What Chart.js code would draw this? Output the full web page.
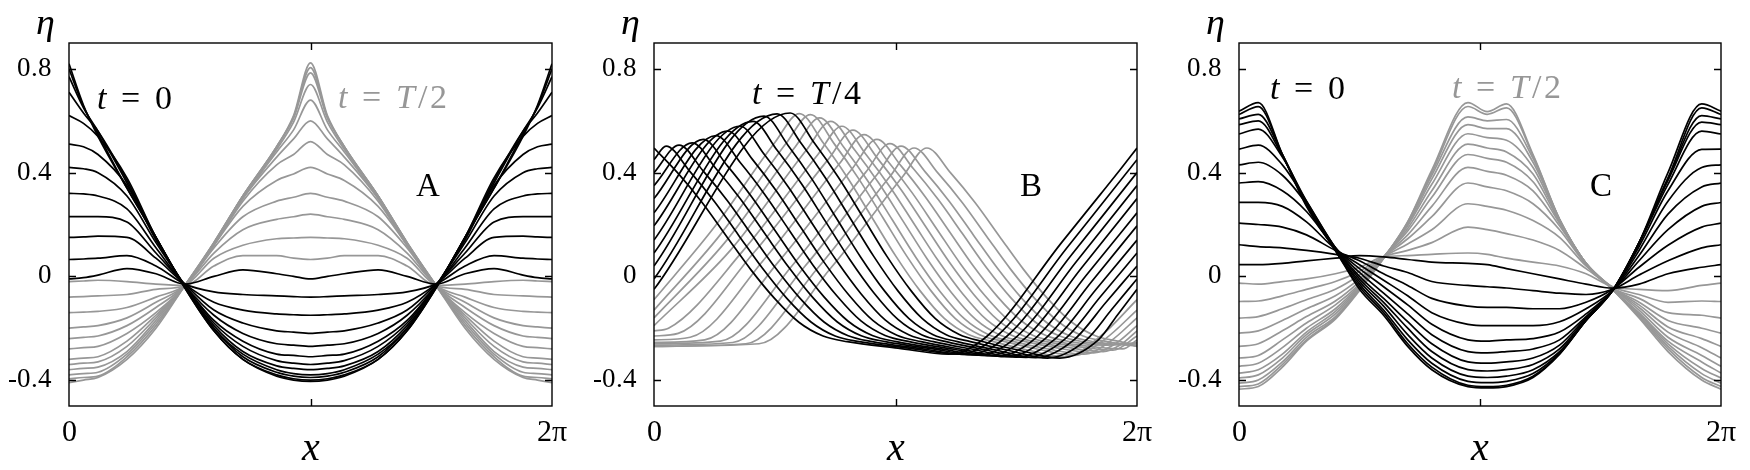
<!DOCTYPE html>
<html>
<head>
<meta charset="utf-8">
<title>Wave profiles A, B, C</title>
<script src="https://cdn.jsdelivr.net/npm/chart.js@4.4.1/dist/chart.umd.min.js"></script>
<style>
  @font-face { font-family: 'PlotSerif'; font-style: normal;
    src: local('Liberation Serif'), local('LiberationSerif'), local('LiberationSerif-Regular'), local('Liberation Serif Regular'); }
  @font-face { font-family: 'PlotSerif'; font-style: italic;
    src: local('Liberation Serif Italic'), local('LiberationSerif-Italic'); }
  body { margin: 0; background: #fff; font-family: 'PlotSerif', 'Liberation Serif', serif; }
  #wrap { position: relative; width: 1750px; height: 470px; }
  canvas { position: absolute; top: 0; }
  .preload { position: absolute; left: -999px; top: 0; }
</style>
</head>
<body>
<span class="preload">0.8 <i>t x</i></span>
<div id="wrap">
  <canvas id="panelA" width="583" height="470" style="left:0px"></canvas>
  <canvas id="panelB" width="583" height="470" style="left:583px"></canvas>
  <canvas id="panelC" width="584" height="470" style="left:1166px"></canvas>
</div>
<script>
// ---- axis ticks (x in units of pi) ----
const xTickValues = [0, 1, 2];
const xTickLabels = ['0', '', '2π'];
const yTickValues = [-0.4, 0, 0.4, 0.8];
const axisTitles = ['x', 'η'];

// ---- panel A : profiles read on a common x grid ----
const xsA = [0, .06, .12, .24, .36, .48, .6, .72, .86, .93, 1, 1.07, 1.14, 1.28, 1.4, 1.52, 1.64, 1.76, 1.88, 1.94, 2];
const blackA = [
  [.82,.66,.54,.34,.15,-.045,-.21,-.32,-.385,-.4,-.405,-.4,-.385,-.32,-.21,-.045,.15,.34,.54,.66,.82],
  [.8,.655,.55,.34,.15,-.045,-.21,-.32,-.38,-.395,-.4,-.395,-.38,-.32,-.21,-.045,.15,.34,.55,.655,.8],
  [.77,.65,.56,.36,.15,-.04,-.2,-.31,-.37,-.385,-.39,-.385,-.37,-.31,-.2,-.04,.15,.36,.56,.65,.77],
  [.71,.63,.56,.37,.15,-.04,-.2,-.3,-.36,-.375,-.38,-.375,-.36,-.3,-.2,-.04,.15,.37,.56,.63,.71],
  [.62,.59,.54,.38,.15,-.04,-.19,-.29,-.345,-.355,-.36,-.355,-.345,-.29,-.19,-.04,.15,.38,.54,.59,.62],
  [.51,.5,.47,.35,.14,-.035,-.18,-.27,-.325,-.335,-.34,-.335,-.325,-.27,-.18,-.035,.14,.35,.47,.5,.51],
  [.42,.415,.4,.31,.13,-.035,-.17,-.25,-.3,-.305,-.31,-.305,-.3,-.25,-.17,-.035,.13,.31,.4,.415,.42],
  [.32,.318,.31,.26,.11,-.035,-.15,-.22,-.26,-.265,-.27,-.265,-.26,-.22,-.15,-.035,.11,.26,.31,.318,.32],
  [.23,.23,.23,.21,.09,-.03,-.13,-.18,-.21,-.215,-.22,-.215,-.21,-.18,-.13,-.03,.09,.21,.23,.23,.23],
  [.15,.152,.155,.15,.07,-.03,-.1,-.13,-.145,-.148,-.15,-.148,-.145,-.13,-.1,-.03,.07,.15,.155,.152,.15],
  [.065,.067,.07,.08,.04,-.03,-.06,-.07,-.075,-.078,-.08,-.078,-.075,-.07,-.06,-.03,.04,.08,.07,.067,.065],
  [-.01,-.005,.005,.03,.01,-.03,0,.025,.01,0,-.01,0,.01,.025,0,-.03,.01,.03,.005,-.005,-.01]
];
const grayA = [
  [-.02,-.018,-.015,-.02,-.03,-.035,.04,.08,.08,.07,.065,.07,.08,.08,.04,-.035,-.03,-.02,-.015,-.018,-.02],
  [-.08,-.078,-.075,-.07,-.05,-.035,.07,.12,.145,.148,.15,.148,.145,.12,.07,-.035,-.05,-.07,-.075,-.078,-.08],
  [-.14,-.138,-.135,-.12,-.08,-.035,.09,.18,.22,.23,.24,.23,.22,.18,.09,-.035,-.08,-.12,-.135,-.138,-.14],
  [-.2,-.195,-.19,-.16,-.1,-.035,.11,.23,.29,.305,.32,.305,.29,.23,.11,-.035,-.1,-.16,-.19,-.195,-.2],
  [-.24,-.235,-.23,-.19,-.12,-.035,.12,.27,.37,.395,.42,.395,.37,.27,.12,-.035,-.12,-.19,-.23,-.235,-.24],
  [-.28,-.275,-.27,-.22,-.14,-.035,.12,.29,.43,.47,.52,.47,.43,.29,.12,-.035,-.14,-.22,-.27,-.275,-.28],
  [-.32,-.315,-.31,-.25,-.15,-.035,.12,.3,.46,.53,.6,.53,.46,.3,.12,-.035,-.15,-.25,-.31,-.315,-.32],
  [-.34,-.335,-.33,-.27,-.16,-.035,.125,.3,.48,.565,.68,.565,.48,.3,.125,-.035,-.16,-.27,-.33,-.335,-.34],
  [-.36,-.355,-.35,-.29,-.17,-.035,.125,.31,.49,.595,.74,.595,.49,.31,.125,-.035,-.17,-.29,-.35,-.355,-.36],
  [-.38,-.375,-.37,-.3,-.18,-.035,.13,.31,.5,.61,.785,.61,.5,.31,.13,-.035,-.18,-.3,-.37,-.375,-.38],
  [-.395,-.39,-.385,-.31,-.19,-.035,.13,.31,.5,.615,.805,.615,.5,.31,.13,-.035,-.19,-.31,-.385,-.39,-.395],
  [-.41,-.4,-.39,-.32,-.2,-.035,.13,.31,.5,.62,.823,.62,.5,.31,.13,-.035,-.2,-.32,-.39,-.4,-.41]
];

// ---- panel B : travelling crest, each profile as [x, eta] points ----
const blackB = [
  [[0,.495],[.1,.397],[.2,.284],[.3,.155],[.4,.027],[.5,-.086],[.6,-.177],[.7,-.23],[.8,-.252],[1.01,-.277],[1.22,-.3],[1.38,-.23],[1.69,.133],[1.85,.318],[1.93,.411],[2,.495]],
  [[0,.45],[.05,.502],[.15,.403],[.25,.289],[.35,.159],[.45,.03],[.55,-.085],[.65,-.176],[.75,-.23],[.85,-.252],[1.055,-.277],[1.26,-.3],[1.42,-.23],[1.71,.11],[2,.45]],
  [[0,.4],[.104,.506],[.204,.406],[.304,.292],[.404,.161],[.504,.031],[.604,-.084],[.704,-.176],[.804,-.229],[.904,-.252],[1.1,-.278],[1.3,-.302],[1.46,-.232],[1.73,.084],[2,.4]],
  [[0,.35],[.158,.515],[.258,.414],[.358,.298],[.458,.166],[.558,.035],[.658,-.082],[.758,-.175],[.858,-.229],[.958,-.252],[1.15,-.279],[1.34,-.304],[1.5,-.234],[1.75,.058],[2,.35]],
  [[0,.3],[.204,.528],[.304,.426],[.404,.307],[.504,.173],[.604,.039],[.704,-.079],[.804,-.173],[.904,-.228],[1.004,-.252],[1.19,-.28],[1.38,-.306],[1.54,-.236],[1.77,.032],[2,.3]],
  [[0,.245],[.257,.543],[.357,.439],[.457,.318],[.557,.182],[.657,.045],[.757,-.075],[.857,-.172],[.957,-.228],[1.057,-.252],[1.24,-.281],[1.42,-.308],[1.58,-.238],[1.79,.004],[2,.245]],
  [[0,.195],[.306,.56],[.406,.453],[.506,.33],[.606,.191],[.706,.052],[.806,-.071],[.906,-.17],[1.006,-.227],[1.106,-.252],[1.28,-.282],[1.46,-.31],[1.62,-.24],[1.81,-.023],[2,.195]],
  [[0,.14],[.357,.579],[.457,.47],[.557,.344],[.657,.201],[.757,.059],[.857,-.067],[.957,-.168],[1.057,-.226],[1.157,-.252],[1.33,-.283],[1.5,-.312],[1.66,-.242],[1.83,-.051],[2,.14]],
  [[0,.09],[.41,.598],[.51,.486],[.61,.358],[.71,.212],[.81,.066],[.91,-.063],[1.01,-.166],[1.11,-.226],[1.21,-.252],[1.375,-.284],[1.54,-.313],[1.7,-.243],[1.85,-.077],[2,.09]],
  [[0,.04],[.456,.618],[.556,.504],[.656,.372],[.756,.223],[.856,.074],[.956,-.058],[1.056,-.163],[1.156,-.225],[1.256,-.252],[1.42,-.285],[1.58,-.314],[1.74,-.244],[1.87,-.102],[2,.04]],
  [[0,-.01],[.51,.627],[.61,.512],[.71,.379],[.81,.228],[.91,.077],[1.01,-.056],[1.11,-.162],[1.21,-.225],[1.31,-.252],[1.47,-.286],[1.63,-.315],[1.79,-.245],[1.895,-.128],[2,-.01]],
  [[0,-.05],[.564,.63],[.664,.514],[.764,.381],[.864,.23],[.964,.078],[1.064,-.055],[1.164,-.162],[1.264,-.224],[1.364,-.252],[1.52,-.287],[1.68,-.315],[1.84,-.245],[1.92,-.148],[2,-.05]]
];
const grayB = [
  [[0,-.09],[.25,.19],[.502,.518],[.602,.628],[.702,.513],[.802,.379],[.902,.228],[1.002,.077],[1.102,-.056],[1.202,-.162],[1.302,-.224],[1.402,-.251],[1.55,-.285],[1.7,-.31],[1.85,-.23],[2,-.09]],
  [[0,-.13],[.274,.16],[.548,.514],[.648,.624],[.748,.509],[.848,.376],[.948,.226],[1.048,.076],[1.148,-.057],[1.248,-.163],[1.348,-.225],[1.448,-.251],[1.6,-.283],[1.74,-.305],[1.87,-.24],[2,-.13]],
  [[0,-.16],[.293,.13],[.586,.501],[.686,.611],[.786,.498],[.886,.367],[.986,.219],[1.086,.071],[1.186,-.06],[1.286,-.164],[1.386,-.225],[1.486,-.251],[1.63,-.28],[1.78,-.3],[1.89,-.25],[2,-.16]],
  [[0,-.19],[.316,.1],[.632,.488],[.732,.598],[.832,.486],[.932,.358],[1.032,.212],[1.132,.066],[1.232,-.063],[1.332,-.166],[1.432,-.226],[1.532,-.251],[1.68,-.278],[1.82,-.295],[1.91,-.26],[2,-.19]],
  [[0,-.21],[.06,-.2],[.37,.1],[.678,.469],[.778,.579],[.878,.47],[.978,.344],[1.078,.201],[1.178,.059],[1.278,-.067],[1.378,-.168],[1.478,-.226],[1.578,-.252],[1.72,-.275],[1.86,-.29],[1.93,-.265],[2,-.21]],
  [[0,-.23],[.1,-.22],[.412,.09],[.724,.454],[.824,.564],[.924,.457],[1.024,.333],[1.124,.193],[1.224,.053],[1.324,-.07],[1.424,-.169],[1.524,-.227],[1.624,-.252],[1.76,-.272],[1.9,-.285],[2,-.23]],
  [[0,-.245],[.15,-.235],[.46,.07],[.77,.437],[.87,.547],[.97,.442],[1.07,.321],[1.17,.184],[1.27,.047],[1.37,-.074],[1.47,-.171],[1.57,-.228],[1.67,-.252],[1.8,-.27],[1.94,-.28],[2,-.245]],
  [[0,-.255],[.21,-.245],[.516,.057],[.823,.418],[.923,.528],[1.023,.426],[1.123,.307],[1.223,.173],[1.323,.039],[1.423,-.079],[1.523,-.173],[1.623,-.228],[1.723,-.252],[1.86,-.265],[2,-.255]],
  [[0,-.26],[.275,-.25],[.576,.046],[.877,.402],[.977,.512],[1.077,.412],[1.177,.296],[1.277,.165],[1.377,.033],[1.477,-.082],[1.577,-.175],[1.677,-.229],[1.777,-.252],[1.89,-.262],[2,-.26]],
  [[0,-.265],[.326,-.255],[.625,.039],[.923,.392],[1.023,.502],[1.123,.403],[1.223,.289],[1.323,.159],[1.423,.03],[1.523,-.085],[1.623,-.176],[1.723,-.23],[1.823,-.252],[1.91,-.262],[2,-.265]],
  [[0,-.27],[.38,-.26],[.679,.033],[.977,.385],[1.077,.495],[1.177,.397],[1.277,.284],[1.377,.155],[1.477,.027],[1.577,-.086],[1.677,-.177],[1.777,-.23],[1.877,-.252],[2,-.27]],
  [[0,-.27],[.435,-.26],[.733,.033],[1.03,.385],[1.13,.495],[1.23,.397],[1.33,.284],[1.43,.155],[1.53,.027],[1.63,-.086],[1.73,-.177],[1.83,-.23],[1.93,-.252],[2,-.27]]
];

// ---- panel C : profiles read on a common x grid ----
const xsC = [0, .08, .18, .28, .4, .5, .6, .7, .8, .95, 1.03, 1.11, 1.22, 1.33, 1.44, 1.55, 1.66, 1.78, 1.92, 2];
const blackC = [
  [.637,.67,.47,.27,.1,-.05,-.15,-.27,-.36,-.425,-.43,-.425,-.39,-.3,-.17,-.055,.13,.4,.665,.637],
  [.624,.655,.47,.275,.1,-.04,-.14,-.26,-.35,-.42,-.425,-.42,-.385,-.3,-.17,-.055,.13,.38,.65,.624],
  [.607,.625,.47,.28,.105,-.03,-.13,-.245,-.335,-.405,-.41,-.405,-.375,-.295,-.17,-.055,.13,.375,.62,.607],
  [.585,.6,.465,.285,.105,-.02,-.115,-.225,-.315,-.385,-.39,-.385,-.36,-.29,-.17,-.055,.13,.37,.595,.585],
  [.549,.568,.46,.29,.11,-.01,-.1,-.2,-.29,-.36,-.365,-.36,-.34,-.28,-.165,-.055,.125,.355,.56,.549],
  [.491,.506,.43,.29,.11,0,-.085,-.175,-.26,-.33,-.335,-.33,-.315,-.265,-.16,-.055,.115,.33,.49,.491],
  [.43,.44,.39,.28,.11,.015,-.065,-.145,-.225,-.29,-.295,-.29,-.28,-.245,-.155,-.055,.1,.29,.42,.43],
  [.36,.365,.33,.25,.11,.03,-.04,-.11,-.185,-.245,-.25,-.245,-.24,-.215,-.145,-.055,.08,.24,.345,.36],
  [.285,.285,.27,.21,.105,.045,-.015,-.075,-.14,-.185,-.19,-.19,-.19,-.175,-.125,-.055,.06,.18,.27,.285],
  [.205,.2,.19,.16,.1,.06,.01,-.035,-.085,-.115,-.12,-.12,-.125,-.125,-.1,-.05,.035,.12,.19,.205],
  [.122,.115,.11,.1,.085,.07,.04,.015,-.02,-.035,-.04,-.045,-.055,-.065,-.07,-.05,.005,.06,.11,.122],
  [.045,.045,.05,.06,.07,.08,.075,.065,.055,.05,.045,.03,.01,-.01,-.03,-.045,-.03,.01,.035,.045]
];
const grayC = [
  [-.026,-.03,-.02,-.01,.01,.035,.075,.08,.085,.09,.085,.07,.055,.04,.01,-.04,-.05,-.055,-.035,-.026],
  [-.097,-.095,-.075,-.05,-.02,.02,.075,.1,.13,.19,.18,.165,.14,.1,.03,-.04,-.07,-.1,-.095,-.097],
  [-.161,-.155,-.125,-.09,-.05,.005,.075,.125,.18,.28,.27,.255,.215,.15,.04,-.045,-.085,-.14,-.15,-.161],
  [-.219,-.21,-.17,-.125,-.075,-.01,.075,.145,.23,.36,.345,.33,.28,.18,.045,-.045,-.1,-.17,-.2,-.219],
  [-.27,-.26,-.21,-.155,-.095,-.02,.075,.16,.27,.42,.405,.39,.33,.195,.05,-.045,-.11,-.195,-.24,-.27],
  [-.315,-.305,-.245,-.18,-.11,-.03,.075,.175,.305,.47,.455,.44,.365,.205,.05,-.045,-.12,-.215,-.275,-.315],
  [-.347,-.335,-.275,-.2,-.125,-.035,.075,.185,.33,.51,.495,.48,.395,.21,.05,-.045,-.13,-.235,-.305,-.347],
  [-.373,-.36,-.3,-.215,-.135,-.04,.075,.195,.355,.55,.535,.525,.42,.215,.05,-.05,-.14,-.25,-.33,-.373],
  [-.392,-.38,-.315,-.225,-.145,-.045,.072,.2,.375,.585,.57,.57,.44,.22,.05,-.05,-.145,-.26,-.355,-.392],
  [-.412,-.4,-.33,-.235,-.155,-.05,.07,.205,.39,.615,.6,.605,.455,.22,.05,-.05,-.15,-.27,-.375,-.412],
  [-.425,-.415,-.34,-.245,-.16,-.05,.07,.21,.4,.655,.625,.65,.465,.22,.05,-.05,-.155,-.28,-.39,-.425],
  [-.435,-.425,-.35,-.25,-.165,-.055,.07,.21,.41,.67,.635,.665,.47,.22,.05,-.05,-.16,-.29,-.4,-.435]
];

// ---- drawing ----
const BLACK = '#000000';
const GRAY = '#979797';
const SERIF = 'PlotSerif, "Liberation Serif", "Times New Roman", serif';

Chart.defaults.font.family = SERIF;
Chart.defaults.color = '#000';

function gridSeries(xs, rows, color) {
  return rows.map(row => ({
    data: xs.map((x, i) => ({ x: x, y: row[i] })),
    borderColor: color
  }));
}

function pointSeries(curves, color) {
  return curves.map(pts => ({
    data: pts.map(p => ({ x: p[0], y: p[1] })),
    borderColor: color
  }));
}

// math-style label: italic variables, spaced "="
function drawMath(ctx, tokens, x, y, color) {
  let cx = x;
  ctx.fillStyle = color;
  ctx.textAlign = 'left';
  ctx.textBaseline = 'alphabetic';
  tokens.forEach(tok => {
    ctx.font = (tok.it ? 'italic ' : '') + '34px ' + SERIF;
    const gap = tok.s === '=' ? 15 : (tok.s === '/' ? 3 : 0);
    cx += gap;
    ctx.fillText(tok.s, cx, y);
    cx += ctx.measureText(tok.s).width + gap;
  });
}

const tIsZero = [{ s: 't', it: true }, { s: '=' }, { s: '0' }];
const tIsHalf = [{ s: 't', it: true }, { s: '=' }, { s: 'T', it: true }, { s: '/' }, { s: '2' }];
const tIsQuarter = [{ s: 't', it: true }, { s: '=' }, { s: 'T', it: true }, { s: '/' }, { s: '4' }];

function makePanel(id, datasets, cfg) {
  const decor = {
    id: 'decor',
    afterDraw(chart) {
      const ctx = chart.ctx;
      const area = chart.chartArea;
      const sx = chart.scales.x, sy = chart.scales.y;
      ctx.save();
      ctx.strokeStyle = '#000';
      ctx.lineWidth = 1.4;
      ctx.beginPath();
      yTickValues.forEach(v => {
        const py = Math.round(sy.getPixelForValue(v)) + 0.5;
        ctx.moveTo(area.left, py); ctx.lineTo(area.left + 7, py);
        ctx.moveTo(area.right, py); ctx.lineTo(area.right - 7, py);
      });
      const pm = Math.round(sx.getPixelForValue(xTickValues[1])) + 0.5;
      ctx.moveTo(pm, area.top); ctx.lineTo(pm, area.top + 7);
      ctx.moveTo(pm, area.bottom); ctx.lineTo(pm, area.bottom - 7);
      ctx.stroke();
      ctx.strokeRect(area.left, area.top, area.right - area.left, area.bottom - area.top);

      ctx.fillStyle = '#000';
      ctx.textAlign = 'center';
      ctx.textBaseline = 'alphabetic';
      ctx.font = 'italic 38px ' + SERIF;
      ctx.fillText(axisTitles[1], area.left - 24, 34);
      ctx.font = 'italic 40px ' + SERIF;
      ctx.fillText(axisTitles[0], (area.left + area.right) / 2, 460);

      cfg.notes.forEach(n => drawMath(ctx, n.tokens, n.x, n.y, n.color));

      ctx.fillStyle = '#000';
      ctx.textAlign = 'center';
      ctx.font = '33px ' + SERIF;
      ctx.fillText(cfg.letter, cfg.letterX, 196);
      ctx.restore();
    }
  };

  return new Chart(document.getElementById(id), {
    type: 'line',
    data: { datasets: datasets },
    options: {
      responsive: false,
      animation: false,
      events: [],
      layout: { padding: { left: 0, top: 43, right: cfg.padRight, bottom: 0 } },
      elements: {
        line: { borderWidth: 1.7, cubicInterpolationMode: 'monotone', fill: false },
        point: { radius: 0 }
      },
      plugins: { legend: { display: false }, tooltip: { enabled: false } },
      scales: {
        x: {
          type: 'linear', min: 0, max: 2,
          grid: { display: false, drawTicks: false },
          border: { display: false },
          afterBuildTicks: s => { s.ticks = xTickValues.map(v => ({ value: v })); },
          afterFit: s => { s.height = 64; },
          ticks: {
            autoSkip: false, maxRotation: 0, padding: 9, color: '#000',
            font: { size: 30 },
            callback: (v, i) => xTickLabels[i]
          }
        },
        y: {
          type: 'linear', min: -0.5, max: 0.9,
          grid: { display: false, drawTicks: false },
          border: { display: false },
          afterBuildTicks: s => { s.ticks = yTickValues.map(v => ({ value: v })); },
          afterFit: s => { s.width = cfg.yWidth; },
          ticks: {
            autoSkip: false, padding: 17, color: '#000',
            font: { size: 27 },
            callback: v => String(v)
          }
        }
      }
    },
    plugins: [decor]
  });
}

const charts = [];
// black profiles first so they are painted over the grey ones
charts.push(makePanel('panelA',
  gridSeries(xsA, blackA, BLACK).concat(gridSeries(xsA, grayA, GRAY)),
  { yWidth: 69, padRight: 31, letter: 'A', letterX: 428,
    notes: [{ tokens: tIsZero, x: 97, y: 109, color: BLACK },
            { tokens: tIsHalf, x: 338, y: 108, color: GRAY }] }));

charts.push(makePanel('panelB',
  pointSeries(blackB, BLACK).concat(pointSeries(grayB, GRAY)),
  { yWidth: 71, padRight: 29, letter: 'B', letterX: 448,
    notes: [{ tokens: tIsQuarter, x: 169, y: 104, color: BLACK }] }));

charts.push(makePanel('panelC',
  gridSeries(xsC, blackC, BLACK).concat(gridSeries(xsC, grayC, GRAY)),
  { yWidth: 73, padRight: 29, letter: 'C', letterX: 435,
    notes: [{ tokens: tIsZero, x: 104, y: 99, color: BLACK },
            { tokens: tIsHalf, x: 286, y: 98, color: GRAY }] }));

// repaint once the serif faces are ready
Promise.all([
  document.fonts.load('27px PlotSerif'),
  document.fonts.load('italic 34px PlotSerif')
]).catch(() => null).then(() => charts.forEach(c => c.update()));
</script>
</body>
</html>
